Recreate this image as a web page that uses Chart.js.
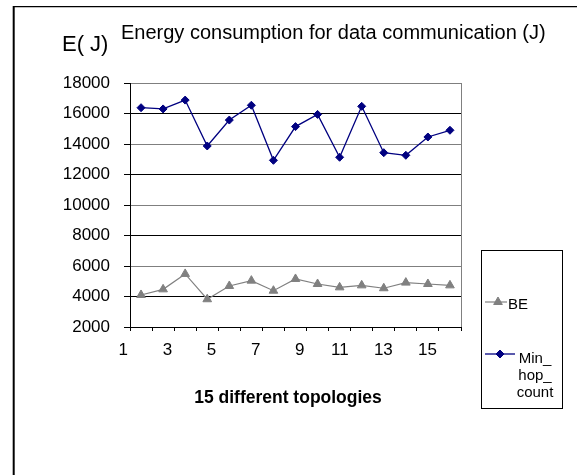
<!DOCTYPE html>
<html>
<head>
<meta charset="utf-8">
<script src="https://cdn.jsdelivr.net/npm/chart.js@4/dist/chart.umd.min.js"></script>
<style>
    html, body { margin: 0; padding: 0; background: #fff; }
</style>
</head>
<body>
<canvas id="energyChart" width="577" height="475"></canvas>
<script>
// Data
const topologies = [1, 2, 3, 4, 5, 6, 7, 8, 9, 10, 11, 12, 13, 14, 15];
const beEnergy = [4100, 4470, 5480, 3820, 4690, 5040, 4380, 5150, 4820, 4600, 4730, 4540, 4910, 4820, 4730];
const minHopEnergy = [16380, 16300, 16880, 13870, 15570, 16540, 12930, 15140, 15940, 13130, 16470, 13430, 13260, 14460, 14900];
const xTickLabels = ["1", "3", "5", "7", "9", "11", "13", "15"];
const yMin = 2000;
const yMax = 18000;
const yStep = 2000;

const FONT = "'Liberation Sans', Arial, sans-serif";

// Draw a legend marker the same way the chart does
function drawMarker(ctx, ds, x, y) {
    if (Chart.helpers && Chart.helpers.drawPoint) {
        ctx.save();
        ctx.fillStyle = ds.pointBackgroundColor;
        ctx.strokeStyle = ds.pointBorderColor;
        ctx.lineWidth = 1;
        Chart.helpers.drawPoint(ctx, { pointStyle: ds.pointStyle, radius: ds.pointRadius, rotation: 0, borderWidth: 1 }, x, y);
        ctx.restore();
    }
}

// Titles, plot frame, outer frame and the boxed legend
const decor = {
    id: "decor",
    beforeDraw(chart) {
        const ctx = chart.ctx;
        ctx.save();
        ctx.fillStyle = "#fff";
        ctx.fillRect(0, 0, chart.width, chart.height);
        ctx.restore();
    },
    beforeDatasetsDraw(chart) {
        const { ctx, chartArea } = chart;
        ctx.save();
        ctx.strokeStyle = "#808080";
        ctx.lineWidth = 1;
        ctx.beginPath();
        ctx.moveTo(Math.round(chartArea.right) + 0.5, chartArea.top);
        ctx.lineTo(Math.round(chartArea.right) + 0.5, chartArea.bottom);
        ctx.stroke();
        ctx.restore();
    },
    afterDraw(chart) {
        const ctx = chart.ctx;
        ctx.save();

        // outer chart frame
        ctx.strokeStyle = "#000";
        ctx.lineWidth = 2;
        ctx.beginPath();
        ctx.moveTo(13.7, 6);
        ctx.lineTo(13.7, chart.height);
        ctx.stroke();
        ctx.lineWidth = 1.3;
        ctx.beginPath();
        ctx.moveTo(13, 6.7);
        ctx.lineTo(chart.width, 6.7);
        ctx.stroke();

        // texts
        ctx.fillStyle = "#000";
        ctx.textBaseline = "alphabetic";
        ctx.textAlign = "left";
        ctx.font = "22px " + FONT;
        ctx.fillText("E( J)", 62, 51);
        ctx.font = "20px " + FONT;
        ctx.fillText("Energy consumption for data communication (J)", 121, 39);
        ctx.textAlign = "center";
        ctx.font = "bold 17.5px " + FONT;
        ctx.fillText("15 different topologies", 288, 403);

        // legend box
        ctx.strokeStyle = "#000";
        ctx.lineWidth = 1;
        ctx.strokeRect(481.5, 250.5, 81, 158);

        const entries = [
            { ds: chart.data.datasets[0], lineY: 302, x1: 485, x2: 507, mx: 498 },
            { ds: chart.data.datasets[1], lineY: 354, x1: 485, x2: 515, mx: 500 },
        ];
        entries.forEach((e) => {
            ctx.strokeStyle = e.ds.borderColor;
            ctx.lineWidth = e.ds.borderWidth;
            ctx.beginPath();
            ctx.moveTo(e.x1, e.lineY);
            ctx.lineTo(e.x2, e.lineY);
            ctx.stroke();
            drawMarker(ctx, e.ds, e.mx, e.lineY);
        });

        ctx.fillStyle = "#000";
        ctx.font = "15px " + FONT;
        ctx.textAlign = "left";
        ctx.fillText(chart.data.datasets[0].label, 508, 309);
        const parts = chart.data.datasets[1].label.split(/(?<=_)/);
        ctx.textAlign = "center";
        parts.forEach((p, i) => {
            ctx.fillText(p, 535, 363 + i * 17);
        });

        ctx.restore();
    },
};

const ctx = document.getElementById("energyChart").getContext("2d");
const energyChart = new Chart(ctx, {
    type: "line",
    data: {
        datasets: [
            {
                label: "BE",
                data: topologies.map((t, i) => ({ x: t, y: beEnergy[i] })),
                borderColor: "#808080",
                backgroundColor: "#808080",
                pointBackgroundColor: "#808080",
                pointBorderColor: "#808080",
                pointStyle: "triangle",
                pointRadius: 5,
                pointBorderWidth: 1,
                borderWidth: 1.2,
                tension: 0,
            },
            {
                label: "Min_hop_count",
                data: topologies.map((t, i) => ({ x: t, y: minHopEnergy[i] })),
                borderColor: "#000080",
                backgroundColor: "#000080",
                pointBackgroundColor: "#000080",
                pointBorderColor: "#000080",
                pointStyle: "rectRot",
                pointRadius: 4,
                pointBorderWidth: 1,
                borderWidth: 1.3,
                tension: 0,
            },
        ],
    },
    options: {
        responsive: false,
        animation: false,
        layout: {
            padding: { top: 83, right: 116, bottom: 0, left: 0 },
        },
        plugins: {
            legend: { display: false },
            title: { display: false },
            tooltip: { enabled: false },
        },
        scales: {
            x: {
                type: "linear",
                min: topologies[0] - 0.5,
                max: topologies[topologies.length - 1] + 0.5,
                afterBuildTicks: (axis) => {
                    const t = [];
                    for (let i = 0; i <= topologies.length; i++) {
                        t.push({ value: topologies[0] - 0.5 + i });
                    }
                    axis.ticks = t;
                },
                afterFit: (scale) => {
                    scale.height = 475 - 327;
                },
                border: { color: "#000", width: 1 },
                grid: {
                    drawOnChartArea: false,
                    drawTicks: true,
                    tickLength: 4,
                    color: "#000",
                },
                ticks: {
                    autoSkip: false,
                    maxRotation: 0,
                    align: "end",
                    labelOffset: -2,
                    padding: 9,
                    color: "#000",
                    font: { family: FONT, size: 17 },
                    callback: (value, index) => (index % 2 === 0 ? xTickLabels[index / 2] || "" : ""),
                },
            },
            y: {
                min: yMin,
                max: yMax,
                afterFit: (scale) => {
                    scale.width = 130;
                },
                border: { color: "#000", width: 1 },
                grid: {
                    drawTicks: true,
                    tickLength: 6,
                    color: (c) => (c.index % 2 ? "#000" : "#7f7f7f"),
                    tickColor: "#000",
                },
                ticks: {
                    stepSize: yStep,
                    padding: 14,
                    color: "#000",
                    font: { family: FONT, size: 17 },
                    callback: (value) => String(value),
                },
            },
        },
    },
    plugins: [decor],
});
</script>
</body>
</html>
